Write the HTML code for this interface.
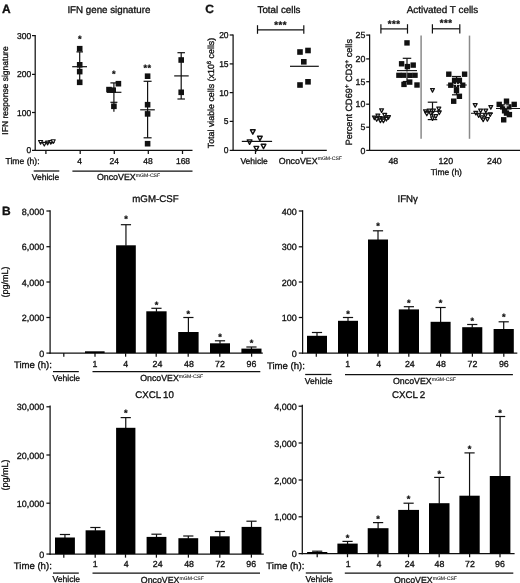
<!DOCTYPE html>
<html>
<head>
<meta charset="utf-8">
<title>Figure</title>
<style>
html, body { margin: 0; padding: 0; background: #fff; }
body { width: 520px; height: 583px; overflow: hidden; }
svg { display: block; will-change: transform; filter: blur(0.45px); }
svg text { font-family: "Liberation Sans", sans-serif; fill: #111; stroke: #111; stroke-width: 0.32px; text-rendering: geometricPrecision; }
</style>
</head>
<body>
<svg width="520" height="583" viewBox="0 0 520 583">
<rect x="0" y="0" width="520" height="583" fill="#fff"/>
<text x="2.00" y="13.20" font-size="12" text-anchor="start" font-weight="bold" >A</text>
<text x="67.40" y="13.10" font-size="9.75" text-anchor="start" font-weight="normal" >IFN gene signature</text>
<text transform="translate(7.50,90.50) rotate(-90)" font-size="8.5" text-anchor="middle">IFN response signature</text>
<line x1="35.20" y1="35.00" x2="35.20" y2="151.00" stroke="#111" stroke-width="1.25"/>
<line x1="34.60" y1="150.40" x2="192.50" y2="150.40" stroke="#111" stroke-width="1.25"/>
<line x1="32.00" y1="35.60" x2="35.20" y2="35.60" stroke="#111" stroke-width="1.25"/>
<text x="31.30" y="38.60" font-size="8.5" text-anchor="end" font-weight="normal" >300</text>
<line x1="32.00" y1="74.40" x2="35.20" y2="74.40" stroke="#111" stroke-width="1.25"/>
<text x="31.30" y="77.40" font-size="8.5" text-anchor="end" font-weight="normal" >200</text>
<line x1="32.00" y1="112.50" x2="35.20" y2="112.50" stroke="#111" stroke-width="1.25"/>
<text x="31.30" y="115.50" font-size="8.5" text-anchor="end" font-weight="normal" >100</text>
<line x1="32.00" y1="150.40" x2="35.20" y2="150.40" stroke="#111" stroke-width="1.25"/>
<text x="31.30" y="153.40" font-size="8.5" text-anchor="end" font-weight="normal" >0</text>
<line x1="45.90" y1="150.40" x2="45.90" y2="154.00" stroke="#111" stroke-width="1.25"/>
<line x1="80.20" y1="150.40" x2="80.20" y2="154.00" stroke="#111" stroke-width="1.25"/>
<line x1="114.30" y1="150.40" x2="114.30" y2="154.00" stroke="#111" stroke-width="1.25"/>
<line x1="148.30" y1="150.40" x2="148.30" y2="154.00" stroke="#111" stroke-width="1.25"/>
<line x1="182.50" y1="150.40" x2="182.50" y2="154.00" stroke="#111" stroke-width="1.25"/>
<text x="5.50" y="164.20" font-size="8.6" text-anchor="start" font-weight="normal" >Time (h):</text>
<text x="79.60" y="164.20" font-size="8.5" text-anchor="middle" font-weight="normal" >4</text>
<text x="114.20" y="164.20" font-size="8.5" text-anchor="middle" font-weight="normal" >24</text>
<text x="148.10" y="164.20" font-size="8.5" text-anchor="middle" font-weight="normal" >48</text>
<text x="183.00" y="164.20" font-size="8.5" text-anchor="middle" font-weight="normal" >168</text>
<line x1="33.70" y1="171.00" x2="59.30" y2="171.00" stroke="#111" stroke-width="1.25"/>
<line x1="72.40" y1="171.00" x2="192.50" y2="171.00" stroke="#111" stroke-width="1.25"/>
<text x="45.50" y="180.00" font-size="8.5" text-anchor="middle" font-weight="normal" >Vehicle</text>
<text x="96.90" y="180.20" font-size="8.85">OncoVEX<tspan font-size="5.1" dy="-3.2" stroke-width="0.08">mGM-CSF</tspan></text>
<path d="M38.55 140.45 L42.65 140.45 L40.60 144.15 Z" fill="#fff" stroke="#111" stroke-width="1.15" stroke-linejoin="round"/>
<path d="M42.25 142.35 L46.35 142.35 L44.30 146.05 Z" fill="#fff" stroke="#111" stroke-width="1.15" stroke-linejoin="round"/>
<path d="M45.55 141.15 L49.65 141.15 L47.60 144.85 Z" fill="#fff" stroke="#111" stroke-width="1.15" stroke-linejoin="round"/>
<path d="M48.75 140.55 L52.85 140.55 L50.80 144.25 Z" fill="#fff" stroke="#111" stroke-width="1.15" stroke-linejoin="round"/>
<path d="M51.15 139.75 L55.25 139.75 L53.20 143.45 Z" fill="#fff" stroke="#111" stroke-width="1.15" stroke-linejoin="round"/>
<line x1="39.20" y1="142.60" x2="54.60" y2="142.60" stroke="#111" stroke-width="1.0"/>
<line x1="79.70" y1="51.90" x2="79.70" y2="82.00" stroke="#111" stroke-width="1.2"/>
<line x1="76.45" y1="51.90" x2="82.95" y2="51.90" stroke="#111" stroke-width="1.2"/>
<line x1="72.20" y1="66.70" x2="87.00" y2="66.70" stroke="#111" stroke-width="1.2"/>
<rect x="76.90" y="45.90" width="5.6" height="5.6" fill="#111"/>
<rect x="76.90" y="62.00" width="5.6" height="5.6" fill="#111"/>
<rect x="76.90" y="68.80" width="5.6" height="5.6" fill="#111"/>
<rect x="76.90" y="79.50" width="5.6" height="5.6" fill="#111"/>
<text x="79.70" y="42.33" font-size="9.2" text-anchor="middle" font-weight="bold" stroke-width="0.45">*</text>
<line x1="113.90" y1="82.90" x2="113.90" y2="111.80" stroke="#111" stroke-width="1.2"/>
<line x1="110.40" y1="82.90" x2="117.40" y2="82.90" stroke="#111" stroke-width="1.2"/>
<line x1="110.40" y1="102.30" x2="117.40" y2="102.30" stroke="#111" stroke-width="1.2"/>
<line x1="107.00" y1="92.30" x2="121.40" y2="92.30" stroke="#111" stroke-width="1.2"/>
<rect x="115.60" y="80.90" width="5.6" height="5.6" fill="#111"/>
<rect x="106.20" y="86.80" width="5.6" height="5.6" fill="#111"/>
<rect x="110.40" y="87.40" width="5.6" height="5.6" fill="#111"/>
<rect x="111.10" y="103.50" width="5.6" height="5.6" fill="#111"/>
<text x="113.90" y="77.43" font-size="9.2" text-anchor="middle" font-weight="bold" stroke-width="0.45">*</text>
<line x1="147.60" y1="81.30" x2="147.60" y2="137.80" stroke="#111" stroke-width="1.2"/>
<line x1="143.60" y1="81.30" x2="151.60" y2="81.30" stroke="#111" stroke-width="1.2"/>
<line x1="143.60" y1="137.80" x2="151.60" y2="137.80" stroke="#111" stroke-width="1.2"/>
<line x1="140.20" y1="109.80" x2="154.80" y2="109.80" stroke="#111" stroke-width="1.2"/>
<rect x="144.80" y="73.40" width="5.6" height="5.6" fill="#111"/>
<rect x="144.80" y="101.90" width="5.6" height="5.6" fill="#111"/>
<rect x="144.80" y="111.10" width="5.6" height="5.6" fill="#111"/>
<rect x="144.80" y="140.90" width="5.6" height="5.6" fill="#111"/>
<text x="147.60" y="71.43" font-size="9.2" text-anchor="middle" font-weight="bold" stroke-width="0.45" letter-spacing="0.55">**</text>
<line x1="181.20" y1="52.70" x2="181.20" y2="99.00" stroke="#111" stroke-width="1.2"/>
<line x1="177.45" y1="52.70" x2="184.95" y2="52.70" stroke="#111" stroke-width="1.2"/>
<line x1="177.45" y1="99.00" x2="184.95" y2="99.00" stroke="#111" stroke-width="1.2"/>
<line x1="174.20" y1="75.90" x2="188.70" y2="75.90" stroke="#111" stroke-width="1.2"/>
<rect x="178.40" y="57.20" width="5.6" height="5.6" fill="#111"/>
<rect x="178.40" y="89.50" width="5.6" height="5.6" fill="#111"/>
<text x="205.30" y="12.70" font-size="12" text-anchor="start" font-weight="bold" >C</text>
<text x="257.50" y="13.30" font-size="9.8" text-anchor="start" font-weight="normal" >Total cells</text>
<text transform="translate(213.50,93.00) rotate(-90)" font-size="8.85" text-anchor="middle">Total viable cells (x10<tspan font-size="6.0" dy="-3">6</tspan><tspan dy="3"> cells)</tspan></text>
<line x1="233.10" y1="34.40" x2="233.10" y2="151.00" stroke="#111" stroke-width="1.25"/>
<line x1="232.50" y1="150.40" x2="326.80" y2="150.40" stroke="#111" stroke-width="1.25"/>
<line x1="229.70" y1="35.00" x2="233.10" y2="35.00" stroke="#111" stroke-width="1.25"/>
<text x="228.60" y="38.00" font-size="8.5" text-anchor="end" font-weight="normal" >20</text>
<line x1="229.70" y1="63.90" x2="233.10" y2="63.90" stroke="#111" stroke-width="1.25"/>
<text x="228.60" y="66.90" font-size="8.5" text-anchor="end" font-weight="normal" >15</text>
<line x1="229.70" y1="92.60" x2="233.10" y2="92.60" stroke="#111" stroke-width="1.25"/>
<text x="228.60" y="95.60" font-size="8.5" text-anchor="end" font-weight="normal" >10</text>
<line x1="229.70" y1="121.40" x2="233.10" y2="121.40" stroke="#111" stroke-width="1.25"/>
<text x="228.60" y="124.40" font-size="8.5" text-anchor="end" font-weight="normal" >5</text>
<line x1="229.70" y1="150.40" x2="233.10" y2="150.40" stroke="#111" stroke-width="1.25"/>
<text x="228.60" y="153.40" font-size="8.5" text-anchor="end" font-weight="normal" >0</text>
<line x1="255.50" y1="150.40" x2="255.50" y2="154.00" stroke="#111" stroke-width="1.25"/>
<line x1="302.20" y1="150.40" x2="302.20" y2="154.00" stroke="#111" stroke-width="1.25"/>
<text x="254.10" y="163.80" font-size="8.5" text-anchor="middle" font-weight="normal" >Vehicle</text>
<text x="278.80" y="163.60" font-size="8.85">OncoVEX<tspan font-size="5.1" dy="-3.2" stroke-width="0.08">mGM-CSF</tspan></text>
<line x1="257.50" y1="29.90" x2="303.80" y2="29.90" stroke="#111" stroke-width="1.2"/>
<line x1="257.50" y1="25.20" x2="257.50" y2="33.80" stroke="#111" stroke-width="1.2"/>
<line x1="303.80" y1="25.20" x2="303.80" y2="33.80" stroke="#111" stroke-width="1.2"/>
<text x="280.65" y="27.54" font-size="9.6" text-anchor="middle" font-weight="bold" stroke-width="0.45" letter-spacing="0.55">***</text>
<rect x="297.20" y="49.20" width="5.6" height="5.6" fill="#111"/>
<rect x="305.20" y="47.70" width="5.6" height="5.6" fill="#111"/>
<rect x="301.00" y="59.00" width="5.6" height="5.6" fill="#111"/>
<rect x="305.20" y="79.00" width="5.6" height="5.6" fill="#111"/>
<rect x="297.20" y="82.20" width="5.6" height="5.6" fill="#111"/>
<line x1="290.00" y1="66.30" x2="318.80" y2="66.30" stroke="#111" stroke-width="1.2"/>
<path d="M250.45 129.80 L255.15 129.80 L252.80 134.20 Z" fill="#fff" stroke="#111" stroke-width="1.4" stroke-linejoin="round"/>
<path d="M257.55 136.20 L262.25 136.20 L259.90 140.60 Z" fill="#fff" stroke="#111" stroke-width="1.4" stroke-linejoin="round"/>
<path d="M247.25 139.90 L251.95 139.90 L249.60 144.30 Z" fill="#fff" stroke="#111" stroke-width="1.4" stroke-linejoin="round"/>
<path d="M261.15 144.30 L265.85 144.30 L263.50 148.70 Z" fill="#fff" stroke="#111" stroke-width="1.4" stroke-linejoin="round"/>
<path d="M254.05 146.40 L258.75 146.40 L256.40 150.80 Z" fill="#fff" stroke="#111" stroke-width="1.4" stroke-linejoin="round"/>
<line x1="241.80" y1="141.40" x2="272.10" y2="141.40" stroke="#111" stroke-width="1.2"/>
<text x="406.70" y="13.40" font-size="9.9" text-anchor="start" font-weight="normal" >Activated T cells</text>
<text transform="translate(351.80,92.20) rotate(-90)" font-size="9.1" text-anchor="middle">Percent CD69<tspan font-size="6.6" dy="-3.0">+</tspan><tspan dy="3.0"> CD3</tspan><tspan font-size="6.6" dy="-3.0">+</tspan><tspan dy="3.0"> cells</tspan></text>
<line x1="369.60" y1="34.50" x2="369.60" y2="151.00" stroke="#111" stroke-width="1.25"/>
<line x1="369.00" y1="150.40" x2="520.00" y2="150.40" stroke="#111" stroke-width="1.25"/>
<line x1="366.20" y1="35.10" x2="369.60" y2="35.10" stroke="#111" stroke-width="1.25"/>
<text x="365.30" y="38.30" font-size="8.8" text-anchor="end" font-weight="normal" >25</text>
<line x1="366.20" y1="58.90" x2="369.60" y2="58.90" stroke="#111" stroke-width="1.25"/>
<text x="365.30" y="62.10" font-size="8.8" text-anchor="end" font-weight="normal" >20</text>
<line x1="366.20" y1="81.70" x2="369.60" y2="81.70" stroke="#111" stroke-width="1.25"/>
<text x="365.30" y="84.90" font-size="8.8" text-anchor="end" font-weight="normal" >15</text>
<line x1="366.20" y1="104.20" x2="369.60" y2="104.20" stroke="#111" stroke-width="1.25"/>
<text x="365.30" y="107.40" font-size="8.8" text-anchor="end" font-weight="normal" >10</text>
<line x1="366.20" y1="127.20" x2="369.60" y2="127.20" stroke="#111" stroke-width="1.25"/>
<text x="365.30" y="130.40" font-size="8.8" text-anchor="end" font-weight="normal" >5</text>
<line x1="366.20" y1="150.40" x2="369.60" y2="150.40" stroke="#111" stroke-width="1.25"/>
<text x="365.30" y="153.60" font-size="8.8" text-anchor="end" font-weight="normal" >0</text>
<line x1="421.10" y1="35.60" x2="421.10" y2="138.80" stroke="#8a8a8a" stroke-width="1.5"/>
<line x1="469.50" y1="35.60" x2="469.50" y2="138.80" stroke="#8a8a8a" stroke-width="1.5"/>
<text x="393.30" y="164.20" font-size="8.8" text-anchor="middle" font-weight="normal" >48</text>
<text x="445.80" y="164.20" font-size="8.8" text-anchor="middle" font-weight="normal" >120</text>
<text x="494.40" y="164.20" font-size="8.8" text-anchor="middle" font-weight="normal" >240</text>
<text x="446.30" y="175.20" font-size="8.5" text-anchor="middle" font-weight="normal" >Time (h)</text>
<line x1="380.90" y1="28.90" x2="407.50" y2="28.90" stroke="#111" stroke-width="1.2"/>
<line x1="380.90" y1="24.20" x2="380.90" y2="33.60" stroke="#111" stroke-width="1.2"/>
<line x1="407.50" y1="24.20" x2="407.50" y2="33.60" stroke="#111" stroke-width="1.2"/>
<text x="394.20" y="26.54" font-size="9.6" text-anchor="middle" font-weight="bold" stroke-width="0.45" letter-spacing="0.55">***</text>
<line x1="432.40" y1="28.80" x2="459.80" y2="28.80" stroke="#111" stroke-width="1.2"/>
<line x1="432.40" y1="24.20" x2="432.40" y2="33.50" stroke="#111" stroke-width="1.2"/>
<line x1="459.80" y1="24.20" x2="459.80" y2="33.50" stroke="#111" stroke-width="1.2"/>
<text x="446.10" y="26.44" font-size="9.6" text-anchor="middle" font-weight="bold" stroke-width="0.45" letter-spacing="0.55">***</text>
<path d="M379.65 108.80 L383.55 108.80 L381.60 112.40 Z" fill="#fff" stroke="#111" stroke-width="1.25" stroke-linejoin="round"/>
<path d="M375.95 114.00 L379.85 114.00 L377.90 117.60 Z" fill="#fff" stroke="#111" stroke-width="1.25" stroke-linejoin="round"/>
<path d="M382.75 113.40 L386.65 113.40 L384.70 117.00 Z" fill="#fff" stroke="#111" stroke-width="1.25" stroke-linejoin="round"/>
<path d="M372.45 116.00 L376.35 116.00 L374.40 119.60 Z" fill="#fff" stroke="#111" stroke-width="1.25" stroke-linejoin="round"/>
<path d="M386.55 115.70 L390.45 115.70 L388.50 119.30 Z" fill="#fff" stroke="#111" stroke-width="1.25" stroke-linejoin="round"/>
<path d="M377.65 116.50 L381.55 116.50 L379.60 120.10 Z" fill="#fff" stroke="#111" stroke-width="1.25" stroke-linejoin="round"/>
<path d="M381.05 117.00 L384.95 117.00 L383.00 120.60 Z" fill="#fff" stroke="#111" stroke-width="1.25" stroke-linejoin="round"/>
<path d="M374.75 117.70 L378.65 117.70 L376.70 121.30 Z" fill="#fff" stroke="#111" stroke-width="1.25" stroke-linejoin="round"/>
<path d="M384.45 117.40 L388.35 117.40 L386.40 121.00 Z" fill="#fff" stroke="#111" stroke-width="1.25" stroke-linejoin="round"/>
<path d="M378.45 119.10 L382.35 119.10 L380.40 122.70 Z" fill="#fff" stroke="#111" stroke-width="1.25" stroke-linejoin="round"/>
<path d="M381.45 119.20 L385.35 119.20 L383.40 122.80 Z" fill="#fff" stroke="#111" stroke-width="1.25" stroke-linejoin="round"/>
<line x1="373.00" y1="117.00" x2="390.00" y2="117.00" stroke="#111" stroke-width="1.0"/>
<line x1="407.00" y1="58.30" x2="407.00" y2="81.50" stroke="#111" stroke-width="1.2"/>
<line x1="402.75" y1="58.30" x2="411.25" y2="58.30" stroke="#111" stroke-width="1.2"/>
<line x1="402.75" y1="81.50" x2="411.25" y2="81.50" stroke="#111" stroke-width="1.2"/>
<rect x="404.30" y="40.20" width="5.4" height="5.4" fill="#111"/>
<rect x="398.90" y="61.10" width="5.4" height="5.4" fill="#111"/>
<rect x="410.50" y="62.40" width="5.4" height="5.4" fill="#111"/>
<rect x="404.70" y="63.90" width="5.4" height="5.4" fill="#111"/>
<rect x="396.20" y="72.50" width="5.4" height="5.4" fill="#111"/>
<rect x="400.70" y="72.50" width="5.4" height="5.4" fill="#111"/>
<rect x="407.30" y="72.60" width="5.4" height="5.4" fill="#111"/>
<rect x="412.30" y="72.50" width="5.4" height="5.4" fill="#111"/>
<rect x="407.00" y="79.40" width="5.4" height="5.4" fill="#111"/>
<rect x="401.30" y="81.70" width="5.4" height="5.4" fill="#111"/>
<rect x="414.30" y="82.30" width="5.4" height="5.4" fill="#111"/>
<line x1="396.00" y1="71.90" x2="418.00" y2="71.90" stroke="#fff" stroke-width="0.9"/>
<line x1="397.00" y1="70.60" x2="417.00" y2="70.60" stroke="#111" stroke-width="1.1"/>
<line x1="432.50" y1="102.20" x2="432.50" y2="119.60" stroke="#111" stroke-width="1.2"/>
<line x1="427.75" y1="102.20" x2="437.25" y2="102.20" stroke="#111" stroke-width="1.2"/>
<line x1="427.75" y1="119.60" x2="437.25" y2="119.60" stroke="#111" stroke-width="1.2"/>
<path d="M430.55 88.50 L434.45 88.50 L432.50 92.10 Z" fill="#fff" stroke="#111" stroke-width="1.25" stroke-linejoin="round"/>
<path d="M423.55 109.80 L427.45 109.80 L425.50 113.40 Z" fill="#fff" stroke="#111" stroke-width="1.25" stroke-linejoin="round"/>
<path d="M427.25 109.00 L431.15 109.00 L429.20 112.60 Z" fill="#fff" stroke="#111" stroke-width="1.25" stroke-linejoin="round"/>
<path d="M431.55 109.00 L435.45 109.00 L433.50 112.60 Z" fill="#fff" stroke="#111" stroke-width="1.25" stroke-linejoin="round"/>
<path d="M436.85 107.10 L440.75 107.10 L438.80 110.70 Z" fill="#fff" stroke="#111" stroke-width="1.25" stroke-linejoin="round"/>
<path d="M424.85 112.20 L428.75 112.20 L426.80 115.80 Z" fill="#fff" stroke="#111" stroke-width="1.25" stroke-linejoin="round"/>
<path d="M437.35 110.90 L441.25 110.90 L439.30 114.50 Z" fill="#fff" stroke="#111" stroke-width="1.25" stroke-linejoin="round"/>
<path d="M428.85 111.80 L432.75 111.80 L430.80 115.40 Z" fill="#fff" stroke="#111" stroke-width="1.25" stroke-linejoin="round"/>
<path d="M433.85 114.70 L437.75 114.70 L435.80 118.30 Z" fill="#fff" stroke="#111" stroke-width="1.25" stroke-linejoin="round"/>
<path d="M430.55 116.80 L434.45 116.80 L432.50 120.40 Z" fill="#fff" stroke="#111" stroke-width="1.25" stroke-linejoin="round"/>
<line x1="424.00" y1="111.40" x2="441.00" y2="111.40" stroke="#111" stroke-width="1.0"/>
<line x1="456.50" y1="76.50" x2="456.50" y2="94.80" stroke="#111" stroke-width="1.2"/>
<line x1="452.00" y1="76.50" x2="461.00" y2="76.50" stroke="#111" stroke-width="1.2"/>
<line x1="452.00" y1="94.80" x2="461.00" y2="94.80" stroke="#111" stroke-width="1.2"/>
<rect x="446.10" y="71.50" width="5.4" height="5.4" fill="#111"/>
<rect x="461.90" y="71.50" width="5.4" height="5.4" fill="#111"/>
<rect x="451.90" y="77.70" width="5.4" height="5.4" fill="#111"/>
<rect x="456.70" y="77.70" width="5.4" height="5.4" fill="#111"/>
<rect x="448.10" y="82.50" width="5.4" height="5.4" fill="#111"/>
<rect x="453.80" y="82.50" width="5.4" height="5.4" fill="#111"/>
<rect x="460.00" y="82.50" width="5.4" height="5.4" fill="#111"/>
<rect x="453.80" y="87.90" width="5.4" height="5.4" fill="#111"/>
<rect x="456.70" y="93.60" width="5.4" height="5.4" fill="#111"/>
<rect x="451.00" y="98.50" width="5.4" height="5.4" fill="#111"/>
<line x1="446.50" y1="85.00" x2="466.80" y2="85.00" stroke="#111" stroke-width="1.0"/>
<line x1="453.60" y1="84.40" x2="460.40" y2="84.40" stroke="#fff" stroke-width="0.9"/>
<line x1="456.50" y1="82.60" x2="456.50" y2="86.60" stroke="#fff" stroke-width="0.8"/>
<path d="M473.25 103.60 L477.15 103.60 L475.20 107.20 Z" fill="#fff" stroke="#111" stroke-width="1.25" stroke-linejoin="round"/>
<path d="M488.85 105.50 L492.75 105.50 L490.80 109.10 Z" fill="#fff" stroke="#111" stroke-width="1.25" stroke-linejoin="round"/>
<path d="M478.65 109.00 L482.55 109.00 L480.60 112.60 Z" fill="#fff" stroke="#111" stroke-width="1.25" stroke-linejoin="round"/>
<path d="M483.85 109.00 L487.75 109.00 L485.80 112.60 Z" fill="#fff" stroke="#111" stroke-width="1.25" stroke-linejoin="round"/>
<path d="M473.85 111.30 L477.75 111.30 L475.80 114.90 Z" fill="#fff" stroke="#111" stroke-width="1.25" stroke-linejoin="round"/>
<path d="M488.25 112.80 L492.15 112.80 L490.20 116.40 Z" fill="#fff" stroke="#111" stroke-width="1.25" stroke-linejoin="round"/>
<path d="M476.75 113.80 L480.65 113.80 L478.70 117.40 Z" fill="#fff" stroke="#111" stroke-width="1.25" stroke-linejoin="round"/>
<path d="M483.45 113.80 L487.35 113.80 L485.40 117.40 Z" fill="#fff" stroke="#111" stroke-width="1.25" stroke-linejoin="round"/>
<path d="M479.85 115.80 L483.75 115.80 L481.80 119.40 Z" fill="#fff" stroke="#111" stroke-width="1.25" stroke-linejoin="round"/>
<path d="M481.25 118.00 L485.15 118.00 L483.20 121.60 Z" fill="#fff" stroke="#111" stroke-width="1.25" stroke-linejoin="round"/>
<path d="M485.45 117.60 L489.35 117.60 L487.40 121.20 Z" fill="#fff" stroke="#111" stroke-width="1.25" stroke-linejoin="round"/>
<line x1="471.00" y1="113.30" x2="493.00" y2="113.30" stroke="#111" stroke-width="1.0"/>
<line x1="496.00" y1="108.50" x2="520.00" y2="108.50" stroke="#111" stroke-width="1.0"/>
<rect x="503.80" y="98.50" width="5.4" height="5.4" fill="#111"/>
<rect x="496.50" y="101.70" width="5.4" height="5.4" fill="#111"/>
<rect x="511.50" y="101.70" width="5.4" height="5.4" fill="#111"/>
<rect x="500.00" y="104.20" width="5.4" height="5.4" fill="#111"/>
<rect x="506.10" y="104.20" width="5.4" height="5.4" fill="#111"/>
<rect x="501.90" y="108.10" width="5.4" height="5.4" fill="#111"/>
<rect x="503.80" y="110.40" width="5.4" height="5.4" fill="#111"/>
<rect x="506.70" y="111.90" width="5.4" height="5.4" fill="#111"/>
<rect x="501.00" y="117.10" width="5.4" height="5.4" fill="#111"/>
<line x1="503.60" y1="105.80" x2="508.60" y2="105.80" stroke="#fff" stroke-width="0.9"/>
<line x1="506.10" y1="105.80" x2="506.10" y2="108.20" stroke="#fff" stroke-width="0.9"/>
<text x="2.00" y="215.00" font-size="12" text-anchor="start" font-weight="bold" >B</text>
<line x1="50.10" y1="210.20" x2="50.10" y2="353.70" stroke="#111" stroke-width="1.25"/>
<line x1="49.50" y1="353.10" x2="262.80" y2="353.10" stroke="#111" stroke-width="1.25"/>
<line x1="46.40" y1="211.00" x2="50.10" y2="211.00" stroke="#111" stroke-width="1.25"/>
<text x="44.20" y="214.55" font-size="9.0" text-anchor="end" font-weight="normal" >8,000</text>
<line x1="46.40" y1="246.70" x2="50.10" y2="246.70" stroke="#111" stroke-width="1.25"/>
<text x="44.20" y="250.25" font-size="9.0" text-anchor="end" font-weight="normal" >6,000</text>
<line x1="46.40" y1="282.00" x2="50.10" y2="282.00" stroke="#111" stroke-width="1.25"/>
<text x="44.20" y="285.55" font-size="9.0" text-anchor="end" font-weight="normal" >4,000</text>
<line x1="46.40" y1="317.50" x2="50.10" y2="317.50" stroke="#111" stroke-width="1.25"/>
<text x="44.20" y="321.05" font-size="9.0" text-anchor="end" font-weight="normal" >2,000</text>
<line x1="46.40" y1="353.10" x2="50.10" y2="353.10" stroke="#111" stroke-width="1.25"/>
<text x="44.20" y="356.65" font-size="9.0" text-anchor="end" font-weight="normal" >0</text>
<rect x="85.00" y="351.30" width="19.60" height="1.80" fill="#000"/>
<line x1="125.95" y1="224.70" x2="125.95" y2="245.80" stroke="#111" stroke-width="1.2"/>
<line x1="120.85" y1="224.70" x2="131.05" y2="224.70" stroke="#111" stroke-width="1.2"/>
<rect x="116.10" y="245.30" width="19.70" height="107.80" fill="#000"/>
<text x="125.95" y="222.33" font-size="9.2" text-anchor="middle" font-weight="bold" stroke-width="0.45">*</text>
<line x1="156.45" y1="308.30" x2="156.45" y2="311.80" stroke="#111" stroke-width="1.2"/>
<line x1="151.35" y1="308.30" x2="161.55" y2="308.30" stroke="#111" stroke-width="1.2"/>
<rect x="146.30" y="311.30" width="20.30" height="41.80" fill="#000"/>
<text x="156.45" y="307.73" font-size="9.2" text-anchor="middle" font-weight="bold" stroke-width="0.45">*</text>
<line x1="188.40" y1="317.50" x2="188.40" y2="332.50" stroke="#111" stroke-width="1.2"/>
<line x1="183.30" y1="317.50" x2="193.50" y2="317.50" stroke="#111" stroke-width="1.2"/>
<rect x="178.20" y="332.00" width="20.40" height="21.10" fill="#000"/>
<text x="188.40" y="316.73" font-size="9.2" text-anchor="middle" font-weight="bold" stroke-width="0.45">*</text>
<line x1="220.00" y1="340.80" x2="220.00" y2="343.80" stroke="#111" stroke-width="1.2"/>
<line x1="214.90" y1="340.80" x2="225.10" y2="340.80" stroke="#111" stroke-width="1.2"/>
<rect x="210.00" y="343.30" width="20.00" height="9.80" fill="#000"/>
<text x="220.00" y="340.33" font-size="9.2" text-anchor="middle" font-weight="bold" stroke-width="0.45">*</text>
<line x1="251.45" y1="347.00" x2="251.45" y2="349.10" stroke="#111" stroke-width="1.2"/>
<line x1="246.35" y1="347.00" x2="256.55" y2="347.00" stroke="#111" stroke-width="1.2"/>
<rect x="241.40" y="348.60" width="20.10" height="4.50" fill="#000"/>
<text x="251.45" y="345.93" font-size="9.2" text-anchor="middle" font-weight="bold" stroke-width="0.45">*</text>
<line x1="63.80" y1="353.10" x2="63.80" y2="356.70" stroke="#111" stroke-width="1.25"/>
<line x1="95.00" y1="353.10" x2="95.00" y2="356.70" stroke="#111" stroke-width="1.25"/>
<line x1="125.60" y1="353.10" x2="125.60" y2="356.70" stroke="#111" stroke-width="1.25"/>
<line x1="156.20" y1="353.10" x2="156.20" y2="356.70" stroke="#111" stroke-width="1.25"/>
<line x1="188.20" y1="353.10" x2="188.20" y2="356.70" stroke="#111" stroke-width="1.25"/>
<line x1="219.80" y1="353.10" x2="219.80" y2="356.70" stroke="#111" stroke-width="1.25"/>
<line x1="251.60" y1="353.10" x2="251.60" y2="356.70" stroke="#111" stroke-width="1.25"/>
<text x="13.90" y="367.60" font-size="9.6" text-anchor="start" font-weight="normal" >Time (h):</text>
<text x="95.00" y="367.30" font-size="8.8" text-anchor="middle" font-weight="normal" >1</text>
<text x="125.80" y="367.30" font-size="8.8" text-anchor="middle" font-weight="normal" >4</text>
<text x="157.40" y="367.30" font-size="8.8" text-anchor="middle" font-weight="normal" >24</text>
<text x="188.90" y="367.30" font-size="8.8" text-anchor="middle" font-weight="normal" >48</text>
<text x="220.00" y="367.30" font-size="8.8" text-anchor="middle" font-weight="normal" >72</text>
<text x="251.50" y="367.30" font-size="8.8" text-anchor="middle" font-weight="normal" >96</text>
<line x1="53.00" y1="371.60" x2="78.80" y2="371.60" stroke="#111" stroke-width="1.25"/>
<line x1="92.50" y1="371.60" x2="260.30" y2="371.60" stroke="#111" stroke-width="1.25"/>
<text x="66.30" y="380.60" font-size="8.6" text-anchor="middle" font-weight="normal" >Vehicle</text>
<text x="140.20" y="380.75" font-size="8.8">OncoVEX<tspan font-size="5.1" dy="-3.2" stroke-width="0.08">mGM-CSF</tspan></text>
<text x="132.30" y="201.80" font-size="9.7" text-anchor="start" font-weight="normal" >mGM-CSF</text>
<text transform="translate(7.90,282.00) rotate(-90)" font-size="9.0" text-anchor="middle">(pg/mL)</text>
<line x1="302.60" y1="210.20" x2="302.60" y2="353.70" stroke="#111" stroke-width="1.25"/>
<line x1="302.00" y1="353.10" x2="517.30" y2="353.10" stroke="#111" stroke-width="1.25"/>
<line x1="298.80" y1="211.00" x2="302.60" y2="211.00" stroke="#111" stroke-width="1.25"/>
<text x="296.80" y="214.55" font-size="9.0" text-anchor="end" font-weight="normal" >400</text>
<line x1="298.80" y1="246.80" x2="302.60" y2="246.80" stroke="#111" stroke-width="1.25"/>
<text x="296.80" y="250.35" font-size="9.0" text-anchor="end" font-weight="normal" >300</text>
<line x1="298.80" y1="282.00" x2="302.60" y2="282.00" stroke="#111" stroke-width="1.25"/>
<text x="296.80" y="285.55" font-size="9.0" text-anchor="end" font-weight="normal" >200</text>
<line x1="298.80" y1="317.50" x2="302.60" y2="317.50" stroke="#111" stroke-width="1.25"/>
<text x="296.80" y="321.05" font-size="9.0" text-anchor="end" font-weight="normal" >100</text>
<line x1="298.80" y1="353.10" x2="302.60" y2="353.10" stroke="#111" stroke-width="1.25"/>
<text x="296.80" y="356.65" font-size="9.0" text-anchor="end" font-weight="normal" >0</text>
<line x1="317.00" y1="332.50" x2="317.00" y2="336.30" stroke="#111" stroke-width="1.2"/>
<line x1="311.90" y1="332.50" x2="322.10" y2="332.50" stroke="#111" stroke-width="1.2"/>
<rect x="307.00" y="335.80" width="20.00" height="17.30" fill="#000"/>
<line x1="348.00" y1="317.50" x2="348.00" y2="321.30" stroke="#111" stroke-width="1.2"/>
<line x1="342.90" y1="317.50" x2="353.10" y2="317.50" stroke="#111" stroke-width="1.2"/>
<rect x="338.00" y="320.80" width="20.00" height="32.30" fill="#000"/>
<text x="348.00" y="316.73" font-size="9.2" text-anchor="middle" font-weight="bold" stroke-width="0.45">*</text>
<line x1="378.00" y1="230.80" x2="378.00" y2="240.00" stroke="#111" stroke-width="1.2"/>
<line x1="372.90" y1="230.80" x2="383.10" y2="230.80" stroke="#111" stroke-width="1.2"/>
<rect x="368.00" y="239.50" width="20.00" height="113.60" fill="#000"/>
<text x="378.00" y="229.13" font-size="9.2" text-anchor="middle" font-weight="bold" stroke-width="0.45">*</text>
<line x1="408.90" y1="306.70" x2="408.90" y2="309.90" stroke="#111" stroke-width="1.2"/>
<line x1="403.80" y1="306.70" x2="414.00" y2="306.70" stroke="#111" stroke-width="1.2"/>
<rect x="398.80" y="309.40" width="20.20" height="43.70" fill="#000"/>
<text x="408.90" y="305.93" font-size="9.2" text-anchor="middle" font-weight="bold" stroke-width="0.45">*</text>
<line x1="440.60" y1="307.50" x2="440.60" y2="322.30" stroke="#111" stroke-width="1.2"/>
<line x1="435.50" y1="307.50" x2="445.70" y2="307.50" stroke="#111" stroke-width="1.2"/>
<rect x="430.60" y="321.80" width="20.00" height="31.30" fill="#000"/>
<text x="440.60" y="305.53" font-size="9.2" text-anchor="middle" font-weight="bold" stroke-width="0.45">*</text>
<line x1="472.25" y1="324.50" x2="472.25" y2="327.70" stroke="#111" stroke-width="1.2"/>
<line x1="467.15" y1="324.50" x2="477.35" y2="324.50" stroke="#111" stroke-width="1.2"/>
<rect x="462.20" y="327.20" width="20.10" height="25.90" fill="#000"/>
<text x="472.25" y="323.53" font-size="9.2" text-anchor="middle" font-weight="bold" stroke-width="0.45">*</text>
<line x1="503.70" y1="321.80" x2="503.70" y2="329.50" stroke="#111" stroke-width="1.2"/>
<line x1="498.60" y1="321.80" x2="508.80" y2="321.80" stroke="#111" stroke-width="1.2"/>
<rect x="493.60" y="329.00" width="20.20" height="24.10" fill="#000"/>
<text x="503.70" y="320.33" font-size="9.2" text-anchor="middle" font-weight="bold" stroke-width="0.45">*</text>
<line x1="316.30" y1="353.10" x2="316.30" y2="356.70" stroke="#111" stroke-width="1.25"/>
<line x1="347.60" y1="353.10" x2="347.60" y2="356.70" stroke="#111" stroke-width="1.25"/>
<line x1="378.00" y1="353.10" x2="378.00" y2="356.70" stroke="#111" stroke-width="1.25"/>
<line x1="408.80" y1="353.10" x2="408.80" y2="356.70" stroke="#111" stroke-width="1.25"/>
<line x1="440.60" y1="353.10" x2="440.60" y2="356.70" stroke="#111" stroke-width="1.25"/>
<line x1="472.40" y1="353.10" x2="472.40" y2="356.70" stroke="#111" stroke-width="1.25"/>
<line x1="503.80" y1="353.10" x2="503.80" y2="356.70" stroke="#111" stroke-width="1.25"/>
<text x="266.90" y="369.30" font-size="9.6" text-anchor="start" font-weight="normal" >Time (h):</text>
<text x="347.70" y="367.00" font-size="8.8" text-anchor="middle" font-weight="normal" >1</text>
<text x="378.80" y="367.00" font-size="8.8" text-anchor="middle" font-weight="normal" >4</text>
<text x="409.80" y="367.00" font-size="8.8" text-anchor="middle" font-weight="normal" >24</text>
<text x="441.00" y="367.00" font-size="8.8" text-anchor="middle" font-weight="normal" >48</text>
<text x="472.50" y="367.00" font-size="8.8" text-anchor="middle" font-weight="normal" >72</text>
<text x="503.80" y="367.00" font-size="8.8" text-anchor="middle" font-weight="normal" >96</text>
<line x1="305.20" y1="374.50" x2="331.30" y2="374.50" stroke="#111" stroke-width="1.25"/>
<line x1="345.00" y1="374.50" x2="512.90" y2="374.50" stroke="#111" stroke-width="1.25"/>
<text x="318.70" y="383.60" font-size="8.6" text-anchor="middle" font-weight="normal" >Vehicle</text>
<text x="393.00" y="383.75" font-size="8.8">OncoVEX<tspan font-size="5.1" dy="-3.2" stroke-width="0.08">mGM-CSF</tspan></text>
<text x="397.50" y="201.80" font-size="9.7" text-anchor="start" font-weight="normal" >IFNγ</text>
<line x1="50.10" y1="405.60" x2="50.10" y2="554.65" stroke="#111" stroke-width="1.25"/>
<line x1="49.50" y1="554.05" x2="263.80" y2="554.05" stroke="#111" stroke-width="1.25"/>
<line x1="46.40" y1="406.80" x2="50.10" y2="406.80" stroke="#111" stroke-width="1.25"/>
<text x="44.20" y="410.35" font-size="9.0" text-anchor="end" font-weight="normal" >30,000</text>
<line x1="46.40" y1="455.00" x2="50.10" y2="455.00" stroke="#111" stroke-width="1.25"/>
<text x="44.20" y="458.55" font-size="9.0" text-anchor="end" font-weight="normal" >20,000</text>
<line x1="46.40" y1="503.20" x2="50.10" y2="503.20" stroke="#111" stroke-width="1.25"/>
<text x="44.20" y="506.75" font-size="9.0" text-anchor="end" font-weight="normal" >10,000</text>
<line x1="46.40" y1="554.05" x2="50.10" y2="554.05" stroke="#111" stroke-width="1.25"/>
<text x="44.20" y="557.60" font-size="9.0" text-anchor="end" font-weight="normal" >0</text>
<line x1="64.95" y1="534.50" x2="64.95" y2="538.00" stroke="#111" stroke-width="1.2"/>
<line x1="59.85" y1="534.50" x2="70.05" y2="534.50" stroke="#111" stroke-width="1.2"/>
<rect x="55.00" y="537.50" width="19.90" height="16.55" fill="#000"/>
<line x1="95.40" y1="527.50" x2="95.40" y2="530.80" stroke="#111" stroke-width="1.2"/>
<line x1="90.30" y1="527.50" x2="100.50" y2="527.50" stroke="#111" stroke-width="1.2"/>
<rect x="85.60" y="530.30" width="19.60" height="23.75" fill="#000"/>
<line x1="125.75" y1="417.60" x2="125.75" y2="428.30" stroke="#111" stroke-width="1.2"/>
<line x1="120.65" y1="417.60" x2="130.85" y2="417.60" stroke="#111" stroke-width="1.2"/>
<rect x="116.10" y="427.80" width="19.30" height="126.25" fill="#000"/>
<text x="125.75" y="415.73" font-size="9.2" text-anchor="middle" font-weight="bold" stroke-width="0.45">*</text>
<line x1="156.50" y1="534.20" x2="156.50" y2="537.40" stroke="#111" stroke-width="1.2"/>
<line x1="151.40" y1="534.20" x2="161.60" y2="534.20" stroke="#111" stroke-width="1.2"/>
<rect x="146.60" y="536.90" width="19.80" height="17.15" fill="#000"/>
<line x1="188.30" y1="536.00" x2="188.30" y2="538.70" stroke="#111" stroke-width="1.2"/>
<line x1="183.20" y1="536.00" x2="193.40" y2="536.00" stroke="#111" stroke-width="1.2"/>
<rect x="178.40" y="538.20" width="19.80" height="15.85" fill="#000"/>
<line x1="219.85" y1="531.50" x2="219.85" y2="536.80" stroke="#111" stroke-width="1.2"/>
<line x1="214.75" y1="531.50" x2="224.95" y2="531.50" stroke="#111" stroke-width="1.2"/>
<rect x="210.00" y="536.30" width="19.70" height="17.75" fill="#000"/>
<line x1="251.50" y1="521.20" x2="251.50" y2="527.40" stroke="#111" stroke-width="1.2"/>
<line x1="246.40" y1="521.20" x2="256.60" y2="521.20" stroke="#111" stroke-width="1.2"/>
<rect x="241.60" y="526.90" width="19.80" height="27.15" fill="#000"/>
<line x1="63.80" y1="554.05" x2="63.80" y2="557.65" stroke="#111" stroke-width="1.25"/>
<line x1="95.20" y1="554.05" x2="95.20" y2="557.65" stroke="#111" stroke-width="1.25"/>
<line x1="125.50" y1="554.05" x2="125.50" y2="557.65" stroke="#111" stroke-width="1.25"/>
<line x1="156.40" y1="554.05" x2="156.40" y2="557.65" stroke="#111" stroke-width="1.25"/>
<line x1="188.40" y1="554.05" x2="188.40" y2="557.65" stroke="#111" stroke-width="1.25"/>
<line x1="219.80" y1="554.05" x2="219.80" y2="557.65" stroke="#111" stroke-width="1.25"/>
<line x1="251.40" y1="554.05" x2="251.40" y2="557.65" stroke="#111" stroke-width="1.25"/>
<text x="13.80" y="569.10" font-size="9.6" text-anchor="start" font-weight="normal" >Time (h):</text>
<text x="95.30" y="567.40" font-size="8.8" text-anchor="middle" font-weight="normal" >1</text>
<text x="126.20" y="567.40" font-size="8.8" text-anchor="middle" font-weight="normal" >4</text>
<text x="157.70" y="567.40" font-size="8.8" text-anchor="middle" font-weight="normal" >24</text>
<text x="189.10" y="567.40" font-size="8.8" text-anchor="middle" font-weight="normal" >48</text>
<text x="220.30" y="567.40" font-size="8.8" text-anchor="middle" font-weight="normal" >72</text>
<text x="251.20" y="567.40" font-size="8.8" text-anchor="middle" font-weight="normal" >96</text>
<line x1="53.00" y1="573.10" x2="78.80" y2="573.10" stroke="#111" stroke-width="1.25"/>
<line x1="92.50" y1="573.10" x2="260.00" y2="573.10" stroke="#111" stroke-width="1.25"/>
<text x="66.30" y="582.00" font-size="8.6" text-anchor="middle" font-weight="normal" >Vehicle</text>
<text x="140.80" y="582.90" font-size="8.8">OncoVEX<tspan font-size="5.1" dy="-3.2" stroke-width="0.08">mGM-CSF</tspan></text>
<text x="135.30" y="397.60" font-size="9.7" text-anchor="start" font-weight="normal" >CXCL 10</text>
<text transform="translate(7.90,475.00) rotate(-90)" font-size="9.0" text-anchor="middle">(pg/mL)</text>
<line x1="302.30" y1="404.80" x2="302.30" y2="554.20" stroke="#111" stroke-width="1.25"/>
<line x1="301.70" y1="553.60" x2="514.60" y2="553.60" stroke="#111" stroke-width="1.25"/>
<line x1="298.60" y1="406.20" x2="302.30" y2="406.20" stroke="#111" stroke-width="1.25"/>
<text x="296.80" y="409.75" font-size="9.0" text-anchor="end" font-weight="normal" >4,000</text>
<line x1="298.60" y1="443.00" x2="302.30" y2="443.00" stroke="#111" stroke-width="1.25"/>
<text x="296.80" y="446.55" font-size="9.0" text-anchor="end" font-weight="normal" >3,000</text>
<line x1="298.60" y1="480.00" x2="302.30" y2="480.00" stroke="#111" stroke-width="1.25"/>
<text x="296.80" y="483.55" font-size="9.0" text-anchor="end" font-weight="normal" >2,000</text>
<line x1="298.60" y1="516.80" x2="302.30" y2="516.80" stroke="#111" stroke-width="1.25"/>
<text x="296.80" y="520.35" font-size="9.0" text-anchor="end" font-weight="normal" >1,000</text>
<line x1="298.60" y1="553.60" x2="302.30" y2="553.60" stroke="#111" stroke-width="1.25"/>
<text x="296.80" y="557.15" font-size="9.0" text-anchor="end" font-weight="normal" >0</text>
<line x1="317.20" y1="551.20" x2="317.20" y2="552.50" stroke="#111" stroke-width="1.2"/>
<line x1="312.10" y1="551.20" x2="322.30" y2="551.20" stroke="#111" stroke-width="1.2"/>
<rect x="307.10" y="552.00" width="20.20" height="1.60" fill="#000"/>
<line x1="347.55" y1="541.40" x2="347.55" y2="544.10" stroke="#111" stroke-width="1.2"/>
<line x1="342.45" y1="541.40" x2="352.65" y2="541.40" stroke="#111" stroke-width="1.2"/>
<rect x="337.40" y="543.60" width="20.30" height="10.00" fill="#000"/>
<text x="347.55" y="540.73" font-size="9.2" text-anchor="middle" font-weight="bold" stroke-width="0.45">*</text>
<line x1="378.10" y1="522.60" x2="378.10" y2="528.70" stroke="#111" stroke-width="1.2"/>
<line x1="373.00" y1="522.60" x2="383.20" y2="522.60" stroke="#111" stroke-width="1.2"/>
<rect x="367.70" y="528.20" width="20.80" height="25.40" fill="#000"/>
<text x="378.10" y="521.93" font-size="9.2" text-anchor="middle" font-weight="bold" stroke-width="0.45">*</text>
<line x1="408.60" y1="503.20" x2="408.60" y2="510.40" stroke="#111" stroke-width="1.2"/>
<line x1="403.50" y1="503.20" x2="413.70" y2="503.20" stroke="#111" stroke-width="1.2"/>
<rect x="398.20" y="509.90" width="20.80" height="43.70" fill="#000"/>
<text x="408.60" y="501.73" font-size="9.2" text-anchor="middle" font-weight="bold" stroke-width="0.45">*</text>
<line x1="439.25" y1="477.40" x2="439.25" y2="503.70" stroke="#111" stroke-width="1.2"/>
<line x1="434.15" y1="477.40" x2="444.35" y2="477.40" stroke="#111" stroke-width="1.2"/>
<rect x="429.00" y="503.20" width="20.50" height="50.40" fill="#000"/>
<text x="439.25" y="476.73" font-size="9.2" text-anchor="middle" font-weight="bold" stroke-width="0.45">*</text>
<line x1="469.55" y1="452.90" x2="469.55" y2="496.20" stroke="#111" stroke-width="1.2"/>
<line x1="464.45" y1="452.90" x2="474.65" y2="452.90" stroke="#111" stroke-width="1.2"/>
<rect x="459.40" y="495.70" width="20.30" height="57.90" fill="#000"/>
<text x="469.55" y="452.23" font-size="9.2" text-anchor="middle" font-weight="bold" stroke-width="0.45">*</text>
<line x1="500.10" y1="416.50" x2="500.10" y2="476.50" stroke="#111" stroke-width="1.2"/>
<line x1="495.00" y1="416.50" x2="505.20" y2="416.50" stroke="#111" stroke-width="1.2"/>
<rect x="489.80" y="476.00" width="20.60" height="77.60" fill="#000"/>
<text x="500.10" y="415.83" font-size="9.2" text-anchor="middle" font-weight="bold" stroke-width="0.45">*</text>
<line x1="317.20" y1="553.60" x2="317.20" y2="557.20" stroke="#111" stroke-width="1.25"/>
<line x1="347.50" y1="553.60" x2="347.50" y2="557.20" stroke="#111" stroke-width="1.25"/>
<line x1="378.00" y1="553.60" x2="378.00" y2="557.20" stroke="#111" stroke-width="1.25"/>
<line x1="408.50" y1="553.60" x2="408.50" y2="557.20" stroke="#111" stroke-width="1.25"/>
<line x1="439.20" y1="553.60" x2="439.20" y2="557.20" stroke="#111" stroke-width="1.25"/>
<line x1="469.60" y1="553.60" x2="469.60" y2="557.20" stroke="#111" stroke-width="1.25"/>
<line x1="500.00" y1="553.60" x2="500.00" y2="557.20" stroke="#111" stroke-width="1.25"/>
<text x="266.30" y="568.80" font-size="9.6" text-anchor="start" font-weight="normal" >Time (h):</text>
<text x="348.30" y="566.80" font-size="8.8" text-anchor="middle" font-weight="normal" >1</text>
<text x="378.90" y="566.80" font-size="8.8" text-anchor="middle" font-weight="normal" >4</text>
<text x="409.70" y="566.80" font-size="8.8" text-anchor="middle" font-weight="normal" >24</text>
<text x="439.50" y="566.80" font-size="8.8" text-anchor="middle" font-weight="normal" >48</text>
<text x="469.90" y="566.80" font-size="8.8" text-anchor="middle" font-weight="normal" >72</text>
<text x="500.00" y="566.80" font-size="8.8" text-anchor="middle" font-weight="normal" >96</text>
<line x1="305.80" y1="573.00" x2="331.60" y2="573.00" stroke="#111" stroke-width="1.25"/>
<line x1="344.80" y1="573.00" x2="513.30" y2="573.00" stroke="#111" stroke-width="1.25"/>
<text x="319.30" y="581.80" font-size="8.6" text-anchor="middle" font-weight="normal" >Vehicle</text>
<text x="394.00" y="582.70" font-size="8.8">OncoVEX<tspan font-size="5.1" dy="-3.2" stroke-width="0.08">mGM-CSF</tspan></text>
<text x="392.10" y="397.80" font-size="9.7" text-anchor="start" font-weight="normal" >CXCL 2</text>
</svg>
</body>
</html>
